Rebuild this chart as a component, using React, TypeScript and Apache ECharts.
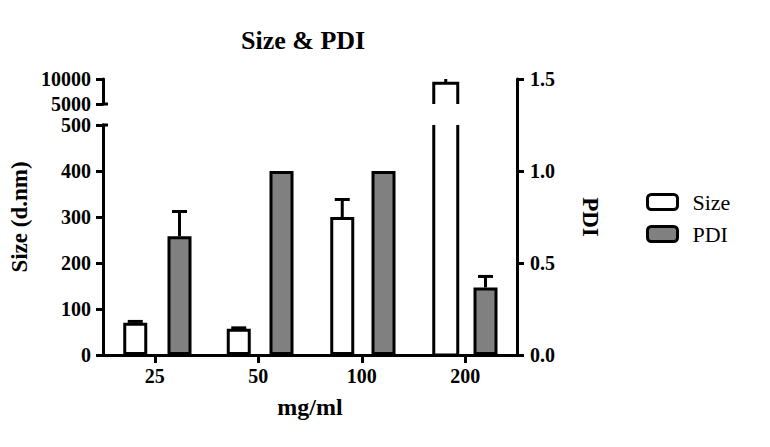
import React, { useEffect, useRef } from 'react';
import * as echarts from 'echarts';

const categories = ['25', '50', '100', '200'];
const sizeValues = [70, 57, 300, 9150];
const sizeErrors = [3, 2, 38, 1000];
const pdiValues = [0.645, 1.0, 1.0, 0.367];
const pdiErrors = [0.135, 0, 0, 0.06];
const sizeLowerTicks = [0, 100, 200, 300, 400, 500];
const sizeUpperTicks = [5000, 10000];
const pdiTicks = [0, 0.5, 1.0, 1.5];

const FONT = '"Liberation Serif", "Times New Roman", serif';
const BAR_W = 24;
const SIZE_OFF = -19.5;
const PDI_OFF = 19.5;

const lowMin = sizeLowerTicks[0];
const lowMax = sizeLowerTicks[sizeLowerTicks.length - 1];
const upMin = sizeUpperTicks[0];
const upMax = sizeUpperTicks[sizeUpperTicks.length - 1];
const pdiMin = pdiTicks[0];
const pdiMax = pdiTicks[pdiTicks.length - 1];

const axisLineStyle = { show: true, lineStyle: { color: '#000', width: 3 } };
const axisTickStyle = { show: true, length: 7, lineStyle: { color: '#000', width: 3 } };
const labelStyle = { color: '#000', fontFamily: FONT, fontWeight: 'bold' as const, fontSize: 20 };

function errorBar(offset: number, maxV: number) {
  return (_p: any, api: any) => {
    const idx = api.value(0);
    const v = api.value(1);
    const e = api.value(2);
    if (!e) return null;
    const top = v + e;
    const p0 = api.coord([idx, v]);
    const p1 = api.coord([idx, Math.min(top, maxV)]);
    const x = p0[0] + offset;
    const children: any[] = [
      { type: 'line', shape: { x1: x, y1: p0[1], x2: x, y2: p1[1] }, style: { stroke: '#000', lineWidth: 3 } },
    ];
    if (top <= maxV) {
      children.push({ type: 'line', shape: { x1: x - 7.5, y1: p1[1], x2: x + 7.5, y2: p1[1] }, style: { stroke: '#000', lineWidth: 3 } });
    }
    return { type: 'group', children };
  };
}

function brokenBar(part: 'lower' | 'upper') {
  return (_p: any, api: any) => {
    const idx = api.value(0);
    const v = api.value(1);
    let yTop: number, yBottom: number;
    const x = api.coord([idx, 0])[0] + SIZE_OFF;
    if (part === 'lower') {
      yBottom = api.coord([idx, lowMin])[1];
      yTop = api.coord([idx, lowMax])[1];
    } else {
      yBottom = api.coord([idx, upMin])[1];
      yTop = api.coord([idx, Math.min(v, upMax)])[1];
    }
    const l = x - BAR_W / 2;
    const r = x + BAR_W / 2;
    const pts =
      part === 'lower'
        ? [[l, yTop], [l, yBottom], [r, yBottom], [r, yTop]]
        : [[l, yBottom], [l, yTop], [r, yTop], [r, yBottom]];
    return {
      type: 'group',
      children: [
        { type: 'rect', shape: { x: l, y: yTop, width: BAR_W, height: yBottom - yTop }, style: { fill: '#fff' } },
        { type: 'polyline', shape: { points: pts }, style: { stroke: '#000', lineWidth: 3, fill: null } },
      ],
    };
  };
}

// small break marks crossing the left axis at the edges of the gap
function breakMark(_p: any, api: any) {
  const cs = _p.coordSys;
  const y = api.coord([0, api.value(0)])[1];
  return {
    type: 'line',
    shape: { x1: cs.x - 1, y1: y, x2: cs.x + 5, y2: y },
    style: { stroke: '#000', lineWidth: 3 },
  };
}

export default function App() {
  const ref = useRef<HTMLDivElement>(null);
  useEffect(() => {
    if (!ref.current) return;
    const chart = echarts.init(ref.current, undefined, { renderer: 'svg' });

    const sizeLowerData = sizeValues.map((v) => (v <= lowMax ? v : '-'));
    const brokenIdx = sizeValues.map((v, i) => [i, v]).filter((d) => d[1] > lowMax);
    const sizeErrLower = sizeValues.map((v, i) => [i, v, sizeErrors[i]]).filter((d) => d[1] <= lowMax);
    const sizeErrUpper = sizeValues.map((v, i) => [i, v, sizeErrors[i]]).filter((d) => d[1] > upMin);
    const pdiErr = pdiValues.map((v, i) => [i, v, pdiErrors[i]]);
    const empty = categories.map(() => '-');

    const option: any = {
      animation: false,
      backgroundColor: '#fff',
      title: {
        text: 'Size & PDI',
        left: 236,
        top: 22,
        textStyle: { color: '#000', fontFamily: FONT, fontWeight: 'bold', fontSize: 26 },
      },
      legend: {
        data: ['Size', 'PDI'],
        orient: 'vertical',
        left: 641,
        top: 186,
        itemWidth: 30,
        itemHeight: 15,
        itemGap: 10,
        icon: 'roundRect',
        itemStyle: { borderColor: '#000', borderWidth: 3 },
        textStyle: { color: '#000', fontFamily: FONT, fontSize: 22, padding: [0, 0, 0, 10] },
      },
      grid: [
        { left: 103, top: 79, width: 414, height: 25 },
        { left: 103, top: 125, width: 414, height: 230 },
        { left: 103, top: 79, width: 414, height: 276 },
      ],
      xAxis: [
        { type: 'category', gridIndex: 0, data: categories, show: false },
        {
          type: 'category',
          gridIndex: 1,
          data: categories,
          axisLine: axisLineStyle,
          axisTick: { ...axisTickStyle, length: 8, alignWithLabel: true },
          axisLabel: { ...labelStyle, margin: 11 },
          name: 'mg/ml',
          nameLocation: 'middle',
          nameGap: 40,
          nameTextStyle: { color: '#000', fontFamily: FONT, fontWeight: 'bold', fontSize: 24 },
        },
        { type: 'category', gridIndex: 2, data: categories, show: false },
      ],
      yAxis: [
        {
          type: 'value',
          gridIndex: 0,
          min: upMin,
          max: upMax,
          interval: upMax - upMin,
          axisLine: axisLineStyle,
          axisTick: axisTickStyle,
          axisLabel: { ...labelStyle, margin: 12, formatter: (v: number) => String(v) },
          splitLine: { show: false },
        },
        {
          type: 'value',
          gridIndex: 1,
          min: lowMin,
          max: lowMax,
          interval: sizeLowerTicks[1] - sizeLowerTicks[0],
          axisLine: axisLineStyle,
          axisTick: axisTickStyle,
          axisLabel: { ...labelStyle, margin: 12, formatter: (v: number) => String(v) },
          splitLine: { show: false },
        },
        {
          type: 'value',
          gridIndex: 2,
          position: 'right',
          min: pdiMin,
          max: pdiMax,
          interval: pdiTicks[1] - pdiTicks[0],
          axisLine: axisLineStyle,
          axisTick: axisTickStyle,
          axisLabel: { ...labelStyle, margin: 13, formatter: (v: number) => v.toFixed(1) },
          splitLine: { show: false },
          name: 'PDI',
          nameLocation: 'middle',
          nameRotate: -90,
          nameGap: 62,
          nameTextStyle: { color: '#000', fontFamily: FONT, fontWeight: 'bold', fontSize: 23 },
        },
        {
          type: 'value',
          gridIndex: 2,
          position: 'left',
          min: pdiMin,
          max: pdiMax,
          axisLine: { show: false },
          axisTick: { show: false },
          axisLabel: { show: false },
          splitLine: { show: false },
          name: 'Size (d.nm)',
          nameLocation: 'middle',
          nameRotate: 90,
          nameGap: 78,
          nameTextStyle: { color: '#000', fontFamily: FONT, fontWeight: 'bold', fontSize: 23 },
        },
      ],
      series: [
        {
          name: 'Size',
          type: 'bar',
          xAxisIndex: 1,
          yAxisIndex: 1,
          data: sizeLowerData,
          barWidth: BAR_W,
          barGap: '62.5%',
          itemStyle: { color: '#fff', borderColor: '#000', borderWidth: 3 },
        },
        {
          name: '_pdiSlot',
          type: 'bar',
          xAxisIndex: 1,
          yAxisIndex: 1,
          data: empty,
          barWidth: BAR_W,
          barGap: '62.5%',
        },
        {
          name: '_sizeSlot',
          type: 'bar',
          xAxisIndex: 2,
          yAxisIndex: 2,
          data: empty,
          barWidth: BAR_W,
          barGap: '62.5%',
        },
        {
          name: 'PDI',
          type: 'bar',
          xAxisIndex: 2,
          yAxisIndex: 2,
          data: pdiValues,
          barWidth: BAR_W,
          barGap: '62.5%',
          itemStyle: { color: '#808080', borderColor: '#000', borderWidth: 3 },
        },
        {
          name: '_brokenLower',
          type: 'custom',
          xAxisIndex: 1,
          yAxisIndex: 1,
          data: brokenIdx,
          encode: { x: 0, y: 1 },
          renderItem: brokenBar('lower'),
          z: 3,
        },
        {
          name: '_brokenUpper',
          type: 'custom',
          xAxisIndex: 0,
          yAxisIndex: 0,
          data: brokenIdx,
          encode: { x: 0, y: 1 },
          renderItem: brokenBar('upper'),
          z: 3,
        },
        {
          name: '_sizeErrLower',
          type: 'custom',
          xAxisIndex: 1,
          yAxisIndex: 1,
          data: sizeErrLower,
          encode: { x: 0, y: 1 },
          renderItem: errorBar(SIZE_OFF, lowMax),
          z: 4,
        },
        {
          name: '_sizeErrUpper',
          type: 'custom',
          xAxisIndex: 0,
          yAxisIndex: 0,
          data: sizeErrUpper,
          encode: { x: 0, y: 1 },
          renderItem: errorBar(SIZE_OFF, upMax),
          z: 4,
        },
        {
          name: '_pdiErr',
          type: 'custom',
          xAxisIndex: 2,
          yAxisIndex: 2,
          data: pdiErr,
          encode: { x: 0, y: 1 },
          renderItem: errorBar(PDI_OFF, pdiMax),
          z: 4,
        },
        {
          name: '_breakUpper',
          type: 'custom',
          xAxisIndex: 0,
          yAxisIndex: 0,
          data: [[upMin]],
          encode: { y: 0 },
          renderItem: breakMark,
          z: 5,
        },
        {
          name: '_breakLower',
          type: 'custom',
          xAxisIndex: 1,
          yAxisIndex: 1,
          data: [[lowMax]],
          encode: { y: 0 },
          renderItem: breakMark,
          z: 5,
        },
      ],
    };
    chart.setOption(option);
    return () => chart.dispose();
  }, []);
  return <div ref={ref} style={{ position: 'fixed', left: 0, top: 0, width: 770, height: 447 }} />;
}
